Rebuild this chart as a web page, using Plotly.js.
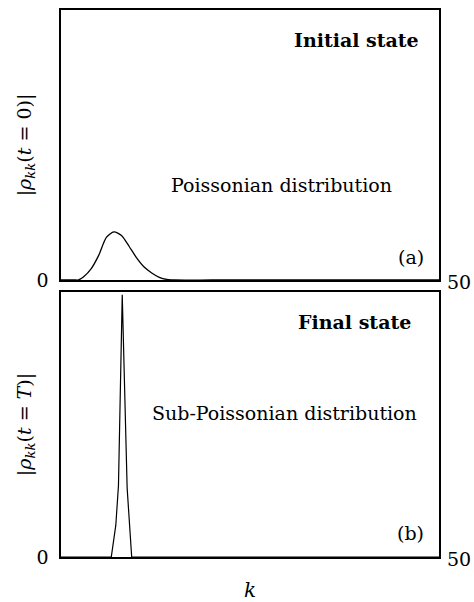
<!DOCTYPE html>
<html>
<head>
<meta charset="utf-8">
<script src="https://cdn.plot.ly/plotly-3.0.1.min.js"></script>
<style>html,body{margin:0;padding:0;background:#fff;}</style>
</head>
<body>
<div id="chart" style="width:474px;height:602px;"></div>
<script>
// Panel (a): initial Poissonian distribution |rho_kk(t=0)| vs k
const kInitial = [0, 1, 2, 2.3, 3, 4, 5, 6, 7, 8, 9, 10, 11, 12, 13, 14, 15, 20, 30, 40, 50];
const rhoInitial = [0, 0, 0, 0, 0.012, 0.042, 0.092, 0.158, 0.178, 0.165, 0.125, 0.082, 0.048, 0.026, 0.010, 0.002, 0, 0, 0, 0, 0];

// Panel (b): final sub-Poissonian distribution |rho_kk(t=T)| vs k
const kFinal = [0, 6.65, 7.25, 7.6, 8.1, 8.75, 9.35, 50];
const rhoFinal = [0, 0, 0.12, 0.27, 0.99, 0.26, 0, 0];

const kRange = [0, 50];
const panelLabels = ["(a)", "(b)"];
const stateLabels = ["Initial state", "Final state"];
const distLabels = ["Poissonian distribution", "Sub-Poissonian distribution"];
const leftTick = ["0"];
const rightTick = "50";

const W = 474, H = 602;
const px = x => x / W;
const py = y => 1 - y / H;
const FONT = "DejaVu Serif";

const traces = [
  {x: kInitial, y: rhoInitial, xaxis: "x", yaxis: "y", mode: "lines",
   line: {color: "#000", width: 1.3, shape: "spline", smoothing: 0.7}, hoverinfo: "skip"},
  {x: kFinal, y: rhoFinal, xaxis: "x2", yaxis: "y2", mode: "lines",
   line: {color: "#000", width: 1.2}, hoverinfo: "skip"}
];

const axBase = {
  showline: true, mirror: true, linecolor: "#000", linewidth: 1.6,
  showgrid: false, zeroline: false, ticks: "", fixedrange: true
};

function label(x, y, text, size) {
  return {xref: "paper", yref: "paper", x: px(x), y: py(y), xanchor: "center", yanchor: "middle",
          text: text, showarrow: false, font: {family: FONT, size: size}};
}

const layout = {
  width: W, height: H,
  margin: {l: 0, r: 0, t: 0, b: 0},
  paper_bgcolor: "#fff", plot_bgcolor: "#fff",
  showlegend: false,
  font: {family: FONT, color: "#000", size: 19},
  xaxis: Object.assign({}, axBase, {domain: [px(61), px(439)], range: kRange, anchor: "y", showticklabels: false}),
  yaxis: Object.assign({}, axBase, {domain: [py(280), py(10)], range: [0, 1], anchor: "x",
    tickvals: [0], ticktext: leftTick, ticklabelstandoff: 7, tickfont: {family: FONT, size: 19},
    title: {text: "|<i>ρ</i><sub><i>kk</i></sub>(<i>t</i> = 0)|", font: {family: FONT, size: 19}, standoff: 0}}),
  xaxis2: Object.assign({}, axBase, {domain: [px(61), px(439)], range: kRange, anchor: "y2", showticklabels: false,
    title: {text: "<i>k</i>", font: {family: FONT, size: 20}, standoff: 28}}),
  yaxis2: Object.assign({}, axBase, {domain: [py(557), py(292)], range: [0, 1], anchor: "x2",
    tickvals: [0], ticktext: leftTick, ticklabelstandoff: 7, tickfont: {family: FONT, size: 19},
    title: {text: "|<i>ρ</i><sub><i>kk</i></sub>(<i>t</i> = <i>T</i>)|", font: {family: FONT, size: 19}, standoff: 0}}),
  annotations: [
    label(356, 40, "<b>" + stateLabels[0] + "</b>", 19),
    label(281, 185, distLabels[0], 19),
    label(411, 257, panelLabels[0], 19),
    label(354, 322, "<b>" + stateLabels[1] + "</b>", 19),
    label(284, 413, distLabels[1], 19),
    label(410, 533, panelLabels[1], 19),
    {xref: "x", yref: "y", x: kRange[1], y: 0, xanchor: "left", yanchor: "middle", xshift: 6, yshift: -2, text: rightTick, showarrow: false, font: {family: FONT, size: 19}},
    {xref: "x2", yref: "y2", x: kRange[1], y: 0, xanchor: "left", yanchor: "middle", xshift: 6, yshift: -2, text: rightTick, showarrow: false, font: {family: FONT, size: 19}}
  ]
};

Plotly.newPlot("chart", traces, layout, {staticPlot: true, displayModeBar: false});
</script>
</body>
</html>
